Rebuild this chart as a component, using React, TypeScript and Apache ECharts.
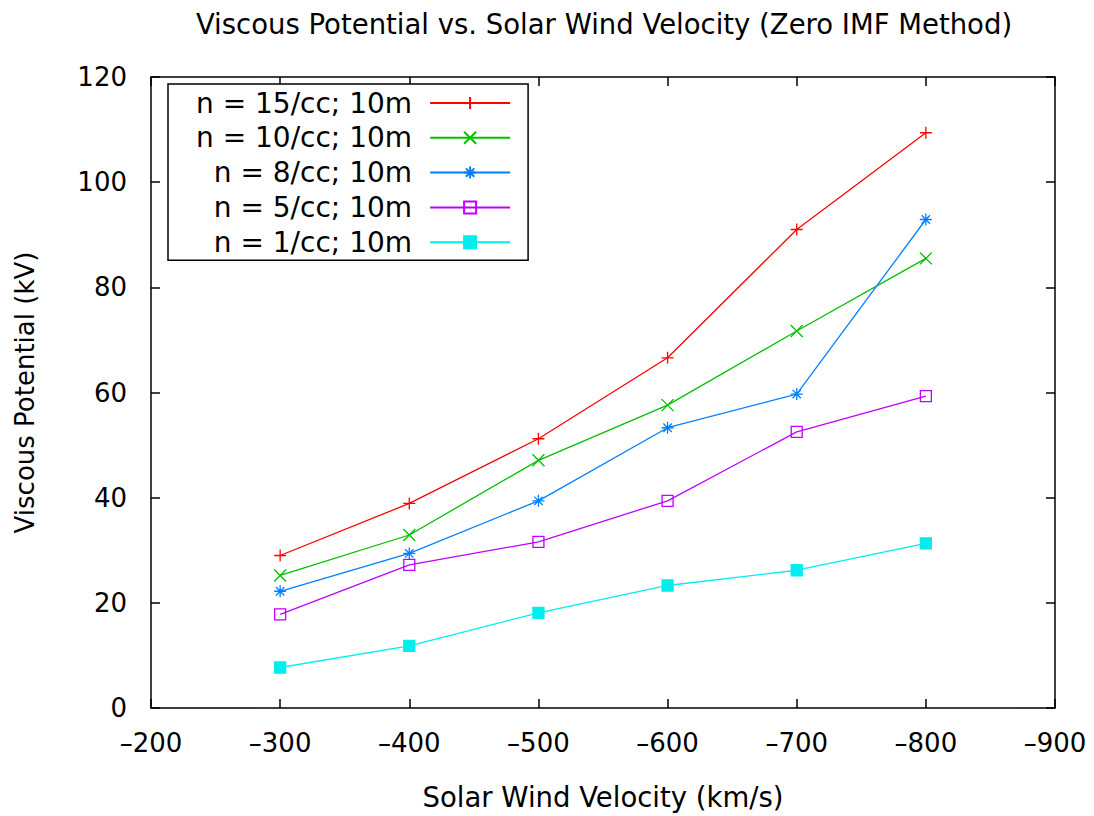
import { useEffect, useRef } from 'react';
import * as echarts from 'echarts';

// Solar wind velocity (km/s) at which the viscous potential was computed
const velocities = [-300, -400, -500, -600, -700, -800];

const seriesNames = [
  'n = 15/cc; 10m',
  'n = 10/cc; 10m',
  'n = 8/cc; 10m',
  'n = 5/cc; 10m',
  'n = 1/cc; 10m',
];

// Viscous potential (kV) per density
const n15 = [29.0, 38.9, 51.2, 66.6, 91.0, 109.4];
const n10 = [25.2, 32.9, 47.1, 57.6, 71.7, 85.5];
const n8 = [22.2, 29.4, 39.4, 53.3, 59.7, 92.9];
const n5 = [17.8, 27.2, 31.6, 39.4, 52.5, 59.3];
const n1 = [7.7, 11.8, 18.1, 23.3, 26.2, 31.3];

const seriesValues = [n15, n10, n8, n5, n1];
const seriesColors = ['#ff0000', '#00c000', '#0080ff', '#c000ff', '#00eeee'];

// gnuplot-style point types: plus, cross, asterisk, open box, filled box
const PLUS = 'path://M0,5L10,5M5,0L5,10';
const CROSS = 'path://M0,0L10,10M10,0L0,10';
const STAR = 'path://M0,5L10,5M5,0L5,10M1.5,1.5L8.5,8.5M8.5,1.5L1.5,8.5';
const BOX = 'path://M0,0L10,0L10,10L0,10Z';
const seriesSymbols = [PLUS, CROSS, STAR, BOX, 'rect'];
const seriesSymbolSizes = [12, 12, 12, 11, 11];

const FONT = '"DejaVu Sans", Verdana, sans-serif';

export default function App() {
  const ref = useRef<HTMLDivElement>(null);

  useEffect(() => {
    document.body.style.margin = '0';
    if (!ref.current) return;
    const chart = echarts.init(ref.current, undefined, { renderer: 'svg' });

    const frameLine = { show: true, onZero: false, lineStyle: { color: '#000', width: 1.5 } };
    const frameTick = { show: true, inside: true, length: 9, lineStyle: { color: '#000', width: 1.5 } };

    const series = seriesNames.map((name, i) => ({
      name,
      type: 'line' as const,
      data: velocities.map((v, j) => [v, seriesValues[i][j]]),
      symbol: seriesSymbols[i],
      symbolSize: seriesSymbolSizes[i],
      symbolKeepAspect: true,
      showAllSymbol: true,
      lineStyle: { color: seriesColors[i], width: 1.3 },
      itemStyle: {
        color: i === 3 ? 'rgba(0,0,0,0)' : seriesColors[i],
        borderColor: seriesColors[i],
        borderWidth: 1.3,
      },
      emphasis: { disabled: true },
      z: 2 + i,
    }));

    const xCommon = {
      type: 'value' as const,
      min: -900,
      max: -200,
      interval: 100,
      inverse: true,
      axisLine: frameLine,
      axisTick: frameTick,
      splitLine: { show: false },
    };
    const yCommon = {
      type: 'value' as const,
      min: 0,
      max: 120,
      interval: 20,
      axisLine: frameLine,
      axisTick: frameTick,
      splitLine: { show: false },
    };

    chart.setOption({
      animation: false,
      backgroundColor: '#ffffff',
      textStyle: { fontFamily: FONT },
      title: {
        text: 'Viscous Potential vs. Solar Wind Velocity (Zero IMF Method)',
        left: 599,
        top: 5,
        textAlign: 'center',
        textStyle: { fontFamily: FONT, fontSize: 27.5, fontWeight: 'normal', color: '#000' },
      },
      grid: { left: 151, right: 39, top: 77, bottom: 108, containLabel: false },
      legend: {
        orient: 'vertical',
        align: 'right',
        left: 168,
        top: 84,
        padding: [5, 17, 4, 28],
        itemWidth: 80,
        itemHeight: 15,
        itemGap: 6.8,
        backgroundColor: '#ffffff',
        borderColor: '#000',
        borderWidth: 1.5,
        selectedMode: false,
        textStyle: {
          fontFamily: FONT,
          fontSize: 28,
          color: '#000',
          padding: [0, 13, 0, 0],
        },
        data: seriesNames,
      },
      xAxis: [
        {
          ...xCommon,
          position: 'bottom',
          name: 'Solar Wind Velocity (km/s)',
          nameLocation: 'middle',
          nameGap: 75,
          nameTextStyle: { fontFamily: FONT, fontSize: 27.5, color: '#000' },
          axisLabel: {
            margin: 22,
            fontFamily: FONT,
            fontSize: 26,
            color: '#000',
            formatter: (v: number) => (v < 0 ? '\u2013' + Math.abs(v) : String(v)),
          },
        },
        {
          ...xCommon,
          position: 'top',
          axisLabel: { show: false },
        },
      ],
      yAxis: [
        {
          ...yCommon,
          position: 'left',
          name: 'Viscous Potential (kV)',
          nameLocation: 'middle',
          nameGap: 113,
          nameTextStyle: { fontFamily: FONT, fontSize: 26, color: '#000' },
          axisLabel: { margin: 24, fontFamily: FONT, fontSize: 26, color: '#000' },
        },
        {
          ...yCommon,
          position: 'right',
          axisLabel: { show: false },
        },
      ],
      series,
    });

    return () => chart.dispose();
  }, []);

  return <div ref={ref} style={{ width: 1094, height: 816 }} />;
}
